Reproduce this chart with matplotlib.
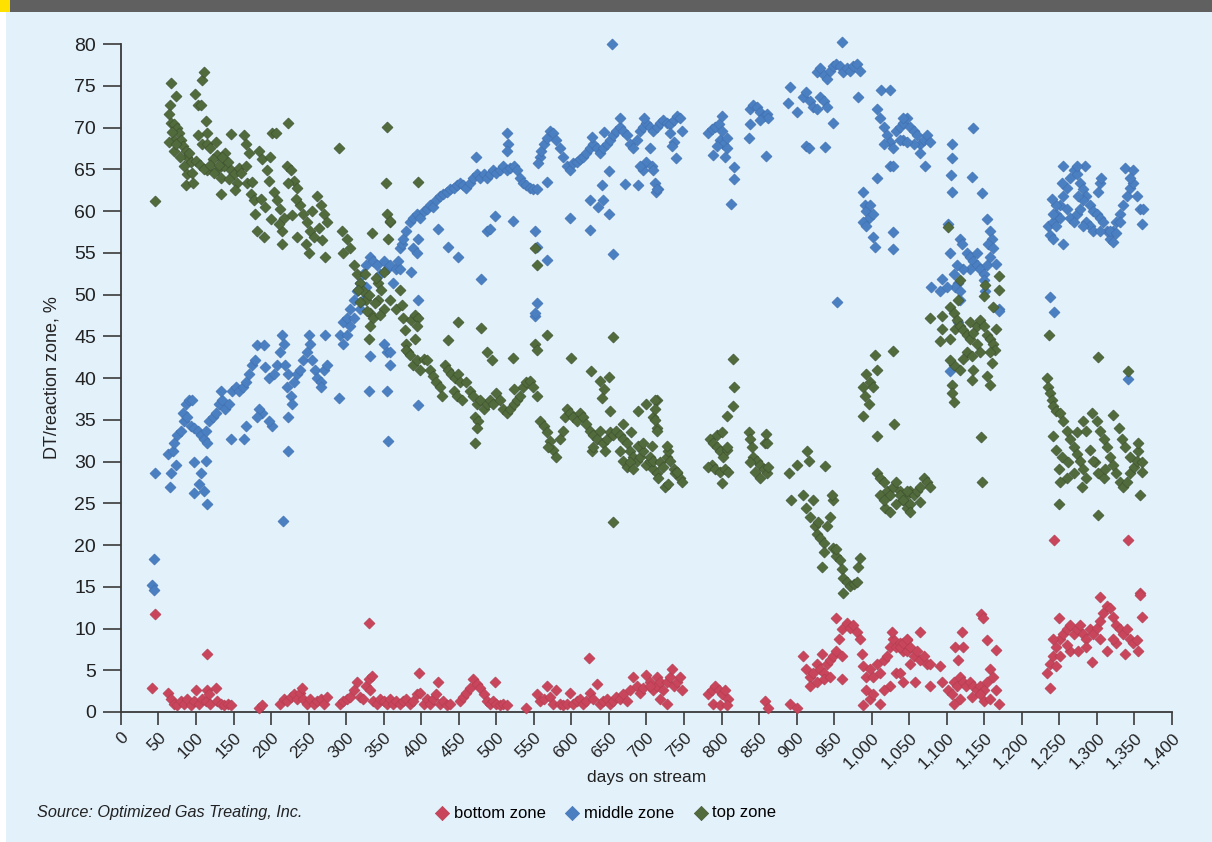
import matplotlib
matplotlib.use("Agg")
import matplotlib.pyplot as plt
from matplotlib.patches import Rectangle

plt.rcParams['font.family'] = ['Liberation Sans', 'DejaVu Sans']

# (day on stream, DT/reaction zone %)
bottom_pts = [
    (45.6, 11.7), (42, 2.9), (114, 7.0), (331, 10.6),
    (62, 2.3), (66, 1.6), (71, 1.0), (75, 0.8), (80, 1.3), (84, 1.0), (88, 1.6), (93, 0.8),
    (97, 1.3), (100, 2.6), (104, 1.0), (108, 1.6), (113, 1.3), (115, 2.6), (117, 2.1),
    (119, 1.0), (126, 2.9), (128, 1.3), (133, 1.0), (137, 0.8), (142, 1.0), (146, 0.8),
    (184, 0.5), (188, 0.8), (212, 1.0), (217, 1.6), (221, 1.3), (226, 1.8), (230, 2.1),
    (235, 1.6), (239, 2.3), (241, 2.9), (243, 1.6), (248, 1.0), (252, 1.6), (257, 1.0),
    (261, 1.3), (266, 1.6), (270, 1.0), (274, 1.8), (292, 1.0), (296, 1.3), (301, 1.6),
    (305, 1.8), (310, 2.6), (314, 3.6), (319, 1.8), (323, 1.6), (327, 3.1), (330, 3.9),
    (335, 4.3), (332, 2.6), (336, 1.3), (341, 1.0), (345, 1.6), (350, 1.3), (354, 1.0),
    (358, 1.6), (363, 1.0), (367, 1.3),
    (372, 1.0), (376, 1.3), (380, 1.6), (385, 1.0), (389, 1.3), (394, 2.1), (398, 2.3),
    (397, 4.7), (403, 1.0), (407, 1.6), (412, 1.0), (416, 1.6), (420, 2.1), (422, 3.6),
    (425, 1.0), (429, 1.3), (434, 0.8), (438, 1.0), (452, 1.3), (456, 1.8), (460, 2.3),
    (465, 2.9), (469, 3.9), (474, 3.4), (478, 2.9), (483, 2.1), (487, 1.3), (492, 1.0),
    (496, 1.3), (498, 3.6), (500, 1.0), (505, 0.8), (509, 1.0), (514, 0.8), (540, 0.5),
    (554, 2.1), (558, 1.3), (563, 1.6), (567, 3.1), (571, 1.8), (576, 1.0), (580, 2.6),
    (585, 1.0), (589, 0.8), (594, 1.0), (598, 2.3), (602, 1.0), (607, 1.3), (611, 1.6),
    (616, 1.0), (620, 1.3), (625, 2.3), (629, 1.6), (634, 3.4), (638, 1.0), (642, 1.3),
    (647, 1.6), (651, 1.0), (656, 1.3), (660, 1.8), (665, 1.6), (669, 2.1), (674, 1.3),
    (678, 2.6), (682, 4.2), (687, 3.1), (691, 2.3), (696, 2.9), (700, 4.4), (705, 3.6),
    (709, 2.6), (714, 3.1), (624, 6.5),
    (705, 3.1), (714, 4.2), (718, 3.6), (722, 2.6), (727, 3.6), (731, 4.2), (734, 5.2),
    (736, 3.1), (740, 3.6), (745, 4.2), (747, 2.6), (718, 1.6), (727, 1.0),
    (782, 2.1), (787, 2.6), (791, 3.1), (796, 2.6), (800, 2.1), (805, 2.6), (809, 1.6),
    (789, 1.0), (798, 0.8), (807, 0.8), (858, 1.3), (862, 0.5), (891, 1.0), (900, 0.5),
    (909, 6.7), (913, 5.2), (918, 4.2), (922, 4.7), (927, 5.7), (931, 5.2), (934, 6.9),
    (936, 4.7), (940, 5.7), (944, 6.2), (949, 6.7), (953, 7.3), (956, 8.8), (960, 9.9),
    (967, 10.6), (971, 10.1), (975, 10.4), (980, 9.6), (984, 8.8), (953, 11.3), (960, 6.7),
    (987, 7.0), (918, 3.1), (927, 3.6), (936, 3.9), (944, 4.2), (960, 3.9), (989, 5.5),
    (993, 4.2), (998, 5.2), (1002, 4.2), (1007, 5.7), (1011, 4.7), (1016, 6.2), (1020, 6.7),
    (1024, 7.8), (1029, 8.8), (1033, 7.8), (1038, 8.3), (1042, 7.3), (1047, 8.6), (1027, 9.6),
    (993, 2.6), (998, 1.6), (1002, 2.1), (989, 0.8), (1011, 1.0), (1024, 3.1), (1016, 2.6),
    (1033, 4.7), (1042, 3.6), (1051, 5.7),
    (1038, 7.8), (1042, 8.3), (1047, 7.3), (1051, 7.8), (1056, 6.7), (1060, 7.3), (1064, 6.2),
    (1069, 6.7), (1073, 5.7), (1078, 5.7), (1064, 9.6), (1047, 8.8), (1038, 4.7), (1058, 3.6),
    (1078, 3.1), (1091, 5.5), (1093, 3.6), (1102, 2.6), (1107, 2.1), (1109, 3.6), (1113, 3.1),
    (1118, 4.2), (1122, 3.6), (1126, 3.1), (1131, 3.6), (1135, 3.1), (1140, 2.6), (1144, 3.1),
    (1149, 2.6), (1153, 3.6), (1158, 5.2), (1162, 4.2), (1166, 2.6), (1169, 1.0), (1109, 1.0),
    (1118, 1.6), (1133, 1.8), (1149, 1.3), (1120, 9.6), (1111, 7.8), (1122, 7.8), (1115, 6.2),
    (1146, 11.7), (1148, 11.3), (1154, 8.6), (1166, 7.4), (1144, 2.1), (1158, 1.6),
    (1233, 4.7), (1237, 5.7), (1242, 6.7), (1246, 7.8), (1251, 8.8), (1255, 9.3), (1260, 9.9),
    (1264, 10.4), (1269, 9.3), (1273, 9.9), (1277, 10.4), (1282, 9.3), (1286, 8.8), (1291, 9.9),
    (1295, 9.3), (1300, 10.1), (1304, 10.9), (1308, 11.9), (1313, 12.7), (1317, 12.5),
    (1322, 11.4), (1326, 10.4), (1331, 9.9), (1335, 9.3), (1340, 9.9), (1344, 8.8), (1348, 8.3),
    (1353, 8.6), (1357, 14.3), (1358, 14.0), (1360, 11.4), (1304, 13.8), (1237, 2.9),
    (1246, 5.5), (1251, 6.7), (1249, 11.2), (1264, 7.3), (1275, 7.3), (1293, 6.0), (1304, 8.8),
    (1313, 7.3), (1326, 8.3), (1337, 7.0), (1355, 7.3), (1243, 20.6), (1341, 20.6),
    (1260, 8.0), (1286, 7.8), (1322, 8.8), (1242, 8.8),
]

middle_pts = [
    (44, 18.3), (42, 15.2), (44, 14.6), (45.6, 28.6), (65.5, 27.0), (66.4, 28.6),
    (62, 30.9), (69, 31.2), (73, 29.6), (71, 32.2), (75, 33.2), (80, 33.7), (84, 34.8),
    (82, 35.8), (86, 36.9), (91, 37.4), (95, 37.4), (88, 35.3), (93, 34.3), (97, 34.0),
    (102, 33.7), (106, 33.2), (111, 32.7), (115, 32.2), (113, 33.7), (117, 34.8), (122, 35.3),
    (126, 35.8), (131, 36.9), (135, 37.4), (133, 38.4), (139, 36.3), (144, 36.9), (148, 38.4),
    (153, 38.9), (157, 38.4), (162, 38.9), (166, 39.5), (170, 40.5), (175, 41.5), (179, 42.1),
    (181, 43.9), (190, 43.9), (192, 41.3), (197, 40.0), (204, 40.5), (208, 41.5), (212, 43.1),
    (215, 45.2), (217, 44.1), (219, 41.5), (223, 40.5), (221, 38.9), (226, 37.9), (228, 36.9),
    (223, 35.3), (230, 39.5), (235, 40.5), (239, 41.0), (243, 42.1), (248, 43.1), (252, 44.1),
    (250, 45.2), (254, 42.1), (259, 41.0), (261, 40.0), (266, 39.5), (270, 41.0), (274, 41.5),
    (266, 38.9), (201, 34.3), (197, 34.8), (188, 35.8), (184, 36.3), (181, 35.3), (166, 34.3),
    (164, 32.7), (146, 32.7), (106, 28.6), (111, 26.5), (114, 24.9), (97, 26.2), (97, 29.9),
    (113, 30.1), (104, 27.3), (223, 31.2), (216, 22.9), (272, 45.2), (291, 37.6), (292, 45.2),
    (296, 46.7), (301, 47.2), (305, 48.3), (310, 49.3), (314, 50.4), (319, 51.4), (323, 52.4),
    (327, 53.5), (332, 54.5), (336, 54.0), (341, 53.5), (345, 52.4), (350, 54.0), (354, 53.0),
    (358, 53.5), (363, 51.4), (367, 53.0), (369, 54.0), (327, 50.9), (323, 49.3), (319, 48.3),
    (310, 47.2), (305, 46.2), (301, 45.2), (296, 44.1), (332, 42.6), (331, 38.4), (350, 44.1),
    (354, 43.1), (358, 41.5), (354, 38.5), (356, 32.4), (358, 43.1),
    (372, 55.6), (374, 56.1), (376, 56.6), (380, 57.6), (385, 58.7), (389, 59.2), (394, 59.7),
    (398, 59.2), (403, 60.0), (407, 60.2), (412, 60.7), (416, 60.5), (420, 61.3), (425, 61.8),
    (429, 62.0), (434, 62.3), (438, 62.6), (443, 62.8), (447, 63.1), (452, 63.3), (456, 63.1),
    (460, 62.8), (465, 63.3), (469, 63.9), (474, 64.4), (478, 63.9), (483, 64.4), (487, 63.9),
    (492, 64.4), (496, 64.9), (500, 64.6), (505, 64.9), (509, 65.4), (514, 64.9), (518, 65.2),
    (523, 65.4), (527, 64.9), (531, 63.9), (536, 63.3), (540, 63.1), (545, 62.8), (549, 62.6),
    (554, 62.6), (473, 66.5), (514, 69.3), (515, 68.0), (514, 67.2), (389, 55.6), (394, 55.0),
    (396, 56.6), (372, 53.0), (387, 52.7), (396, 49.3), (396, 36.8), (422, 57.9), (435, 55.7),
    (449, 54.5), (480, 51.8), (487, 57.6), (492, 57.9), (498, 59.4), (522, 58.8), (551, 57.6),
    (554, 55.7), (567, 54.1), (554, 49.0), (552, 47.4), (551, 47.8), (558, 66.5), (560, 67.2),
    (563, 68.0), (567, 68.8), (571, 69.6), (576, 69.3), (580, 68.5), (585, 67.5), (589, 66.5),
    (594, 65.4), (598, 64.9), (602, 65.7), (607, 65.9), (611, 66.2), (616, 66.5), (620, 67.0),
    (625, 67.5), (629, 68.0), (634, 67.5), (638, 67.0), (642, 67.5), (647, 68.0), (651, 68.5),
    (656, 69.1), (660, 69.6), (665, 70.1), (669, 69.6), (674, 69.1), (678, 68.0), (682, 67.5),
    (687, 68.5), (691, 69.6), (696, 70.1), (700, 70.6), (705, 70.1), (709, 69.6), (714, 70.1),
    (716, 62.6), (713, 62.3), (700, 65.9), (696, 64.9), (691, 65.4), (689, 63.1), (672, 63.2),
    (665, 71.2), (697, 71.1), (643, 69.5), (627, 68.9), (650, 64.8), (641, 63.1), (598, 59.2),
    (625, 61.3), (636, 60.5), (642, 61.3), (650, 59.7), (625, 57.7), (656, 54.9), (654, 80.0),
    (556, 65.7), (567, 63.5),
    (718, 70.6), (722, 70.9), (727, 70.6), (731, 70.4), (736, 70.9), (740, 71.4), (745, 71.1),
    (747, 69.6), (731, 69.3), (736, 68.3), (734, 67.8), (705, 67.5), (707, 65.4), (709, 64.9),
    (711, 63.3), (714, 62.6), (739, 66.4), (782, 69.3), (787, 69.8), (791, 70.1), (796, 70.4),
    (800, 71.4), (798, 68.5), (802, 68.0), (807, 67.5), (805, 66.5), (794, 67.8), (789, 66.7),
    (800, 69.6), (807, 68.8), (816, 65.3), (816, 63.8), (813, 60.9), (838, 72.2), (842, 72.7),
    (847, 72.4), (851, 71.9), (856, 71.4), (860, 71.6), (862, 71.1), (851, 70.9), (838, 70.4),
    (837, 68.7), (859, 66.6), (891, 74.8), (889, 72.9), (900, 71.9), (909, 73.7), (913, 74.2),
    (918, 73.2), (922, 72.4), (927, 72.2), (931, 73.7), (936, 73.2), (940, 72.4), (913, 67.8),
    (916, 67.5), (938, 67.7), (948, 70.6), (927, 76.6), (931, 77.1), (936, 76.3), (940, 75.8),
    (944, 76.8), (949, 77.4), (953, 77.6), (958, 77.4), (962, 76.6), (967, 77.1), (971, 76.8),
    (975, 77.4), (980, 77.6), (984, 76.8), (982, 73.7), (960, 80.2), (989, 62.3), (991, 60.7),
    (993, 60.0), (996, 59.2), (998, 60.7), (1002, 59.7), (989, 58.7), (993, 58.2), (1002, 56.9),
    (1004, 55.7), (1029, 57.5), (1029, 55.4), (1007, 63.9), (1013, 74.5), (1024, 74.5),
    (1007, 72.2), (1011, 71.1), (1016, 70.1), (1020, 69.1), (1024, 68.3), (1029, 67.5),
    (1033, 69.6), (1038, 70.1), (1042, 70.6), (1047, 71.1), (1051, 70.1), (1042, 68.5),
    (1016, 68.0), (1024, 65.4), (1029, 65.4), (954, 49.1),
    (1042, 71.1), (1056, 69.6), (1060, 69.1), (1064, 68.0), (1069, 68.5), (1073, 69.1),
    (1078, 68.3), (1064, 67.0), (1056, 68.0), (1071, 65.4), (1038, 68.5), (1047, 68.3),
    (1107, 68.0), (1107, 66.4), (1105, 64.3), (1107, 62.3), (1104, 55.0), (1102, 58.4),
    (1135, 70.0), (1134, 64.1), (1147, 62.1), (1153, 59.1), (1158, 57.6), (1160, 56.6),
    (1155, 56.1), (1118, 56.6), (1120, 56.1), (1127, 55.0), (1131, 54.5), (1135, 54.0),
    (1140, 53.5), (1144, 53.0), (1149, 52.4), (1153, 53.5), (1158, 54.5), (1162, 55.6),
    (1166, 53.7), (1140, 55.0), (1131, 53.0), (1122, 53.0), (1113, 53.5), (1109, 52.4),
    (1115, 51.4), (1111, 50.9), (1118, 50.4), (1093, 51.9), (1091, 50.4), (1079, 50.9),
    (1100, 50.9), (1149, 51.7), (1151, 50.4), (1169, 48.3), (1118, 49.3), (1104, 40.8),
    (1115, 46.7), (1169, 48.0),
    (1235, 58.2), (1237, 57.1), (1242, 58.7), (1246, 59.7), (1251, 60.7), (1255, 61.8),
    (1260, 62.8), (1264, 63.9), (1269, 64.9), (1273, 64.4), (1277, 63.3), (1282, 62.6),
    (1286, 61.8), (1291, 60.7), (1295, 60.0), (1300, 59.7), (1304, 59.2), (1308, 58.7),
    (1313, 57.6), (1317, 56.6), (1322, 57.6), (1326, 58.7), (1331, 59.7), (1335, 60.7),
    (1340, 61.8), (1344, 62.8), (1348, 63.3), (1353, 61.8), (1357, 60.2), (1362, 60.2),
    (1360, 58.4), (1337, 65.2), (1348, 64.9), (1344, 63.9), (1284, 65.4), (1273, 65.4),
    (1255, 65.4), (1246, 58.2), (1251, 59.2), (1242, 59.7), (1246, 60.7), (1260, 60.2),
    (1264, 59.2), (1269, 58.7), (1273, 59.7), (1277, 60.2), (1282, 61.3), (1286, 58.7),
    (1291, 58.2), (1295, 57.6), (1304, 57.6), (1317, 57.6), (1322, 56.3), (1326, 57.4),
    (1331, 58.7), (1304, 63.3), (1306, 63.9), (1302, 62.3), (1282, 58.2), (1242, 56.6),
    (1237, 49.7), (1243, 47.9), (1341, 39.9), (1255, 56.1), (1240, 61.5), (1253, 63.3),
    (1275, 61.8),
]

top_pts = [
    (45.6, 61.2), (66, 75.3), (73, 73.8), (65, 72.7), (64, 71.6), (66, 70.6), (71, 70.4),
    (75, 69.9), (77, 69.4), (71, 68.5), (80, 68.5), (64, 68.3), (70, 67.2), (82, 67.8),
    (86, 67.2), (88, 66.5), (93, 65.9), (84, 65.4), (88, 64.4), (95, 64.6), (86, 63.1),
    (96, 63.3), (102, 72.7), (106, 72.7), (98, 74.0), (108, 75.7), (111, 76.7), (113, 70.8),
    (114, 69.4), (102, 69.1), (108, 68.0), (115, 68.0), (119, 67.5), (126, 68.3), (128, 66.7),
    (122, 66.2), (115, 64.9), (128, 64.9), (133, 63.9), (133, 62.0), (137, 65.4), (142, 65.9),
    (146, 69.2), (139, 67.0), (146, 64.9), (150, 64.4), (155, 63.3), (157, 65.2), (164, 69.1),
    (166, 68.0), (170, 67.0), (166, 65.4), (168, 63.3), (173, 62.0), (177, 61.3), (179, 59.7),
    (181, 57.6), (190, 56.9), (184, 67.2), (188, 66.2), (199, 66.5), (201, 69.3), (206, 69.3),
    (195, 64.9), (197, 63.6), (204, 62.3), (208, 61.3), (212, 60.2), (217, 59.2), (215, 57.6),
    (214, 56.0), (221, 65.4), (226, 64.9), (230, 63.6), (223, 63.3), (235, 62.8), (239, 60.7),
    (243, 59.7), (248, 58.7), (252, 57.6), (246, 56.1), (250, 55.0), (235, 56.9), (261, 61.8),
    (266, 60.7), (270, 59.7), (274, 58.7), (272, 54.5), (257, 56.9), (223, 70.5), (291, 67.5),
    (294, 57.6), (301, 56.6), (305, 55.6), (296, 55.0), (314, 52.4), (319, 51.4), (323, 50.4),
    (327, 49.3), (319, 49.1), (332, 47.8), (336, 47.2), (343, 49.3), (350, 48.3), (330, 44.7),
    (332, 46.2), (343, 51.4), (354, 70.1), (353, 63.3), (354, 59.7), (358, 58.7), (356, 56.6),
    (350, 52.7), (358, 49.3), (367, 48.3), (334, 57.4), (359, 58.8),
    (68, 69.5), (73, 68.0), (78, 66.5), (90, 67.0), (100, 66.0), (105, 65.5), (110, 65.0),
    (118, 65.5), (124, 64.5), (130, 65.5), (135, 66.5), (144, 63.8), (152, 62.5), (160, 64.5),
    (175, 63.5), (186, 61.5), (192, 60.5), (200, 59.0), (210, 58.5), (228, 59.5), (233, 61.5),
    (255, 60.0), (264, 58.0), (268, 56.5), (310, 53.5), (316, 50.5), (325, 52.5), (330, 50.0),
    (338, 49.0), (345, 47.5), (340, 52.0), (328, 48.0), (347, 50.5),
    (396, 63.5), (372, 50.6), (374, 48.8), (376, 47.2), (378, 45.7), (380, 44.1), (383, 43.1),
    (387, 47.0), (392, 47.5), (396, 47.2), (394, 46.2), (392, 44.7), (380, 43.4), (385, 42.8),
    (389, 41.5), (394, 42.1), (398, 41.0), (403, 42.3), (407, 42.1), (412, 41.0), (416, 40.2),
    (420, 39.5), (425, 38.9), (427, 37.9), (432, 41.5), (436, 41.0), (440, 40.5), (445, 40.0),
    (449, 40.5), (452, 39.5), (443, 38.4), (447, 37.9), (454, 37.4), (460, 39.5), (465, 38.4),
    (469, 37.9), (474, 36.9), (478, 37.4), (483, 36.3), (487, 36.9), (492, 37.4), (496, 36.9),
    (500, 38.2), (505, 37.4), (509, 36.3), (514, 35.8), (518, 36.3), (523, 36.9), (527, 37.4),
    (531, 37.9), (536, 38.9), (540, 39.5), (545, 39.7), (549, 38.9), (554, 37.9), (472, 35.3),
    (476, 34.8), (474, 34.0), (472, 32.2), (449, 46.7), (480, 46.0), (436, 44.5), (488, 43.1),
    (494, 42.2), (522, 42.4), (523, 38.7), (551, 55.6), (554, 53.5), (551, 44.1), (554, 43.4),
    (567, 45.2), (599, 42.4), (626, 40.9), (638, 39.7), (643, 38.7), (650, 40.1), (641, 37.6),
    (656, 44.9), (655, 22.7),
    (558, 34.8), (563, 34.3), (567, 33.5), (571, 32.4), (576, 31.4), (580, 30.6), (569, 31.7),
    (585, 32.7), (589, 33.7), (591, 35.3), (594, 36.3), (598, 35.8), (602, 35.3), (607, 34.8),
    (611, 35.8), (616, 35.3), (620, 34.5), (625, 33.7), (629, 33.2), (634, 32.7), (638, 33.7),
    (642, 32.2), (647, 32.7), (651, 33.5), (656, 33.2), (660, 33.7), (665, 33.2), (669, 32.7),
    (674, 32.2), (678, 31.2), (682, 30.6), (687, 30.1), (691, 30.6), (696, 31.2), (700, 29.6),
    (705, 30.1), (709, 29.1), (714, 28.6), (716, 28.0), (665, 31.2), (669, 30.1), (674, 29.3),
    (678, 29.9), (682, 29.1), (627, 31.2), (645, 31.2), (629, 31.7), (651, 36.1), (689, 36.1),
    (700, 36.9), (714, 37.4), (714, 34.0), (709, 35.3), (669, 34.5), (680, 33.5), (689, 31.9),
    (696, 32.2),
    (711, 37.4), (711, 36.3), (711, 35.0), (714, 33.7), (707, 31.9), (705, 30.6), (709, 30.1),
    (718, 29.9), (722, 29.3), (727, 30.6), (731, 30.1), (736, 29.1), (740, 28.6), (745, 28.0),
    (747, 27.5), (725, 27.0), (729, 31.2), (738, 28.6), (727, 31.9), (729, 27.3), (740, 28.8),
    (785, 32.7), (789, 32.2), (794, 31.7), (798, 31.2), (802, 30.6), (807, 31.4), (787, 29.6),
    (782, 29.3), (791, 29.1), (798, 28.8), (805, 29.1), (809, 28.8), (794, 33.2), (800, 33.5),
    (807, 31.7), (800, 27.4), (807, 35.4), (815, 36.6), (817, 38.9), (815, 42.3),
    (836, 33.5), (838, 32.7), (840, 31.7), (842, 30.6), (847, 30.1), (851, 29.6), (856, 29.1),
    (860, 28.6), (862, 29.3), (858, 32.2), (860, 32.2), (838, 29.9), (845, 28.8), (851, 28.0),
    (859, 33.3),
    (890, 28.6), (893, 25.4), (900, 29.6), (914, 31.2), (916, 30.1), (938, 29.5), (909, 26.0),
    (913, 24.4), (918, 23.4), (922, 25.4), (925, 22.3), (927, 21.3), (931, 20.8), (936, 20.2),
    (940, 22.3), (945, 23.4), (949, 25.4), (947, 26.0), (929, 22.8), (936, 19.2), (934, 17.4),
    (949, 19.7), (953, 18.7), (958, 18.2), (960, 17.1), (962, 16.1), (967, 15.6), (971, 15.1),
    (976, 15.3), (980, 15.6), (982, 17.4), (984, 18.4), (962, 14.3), (953, 19.5),
    (989, 38.9), (993, 40.5), (998, 39.5), (1002, 38.9), (991, 37.9), (996, 36.9), (1007, 41.0),
    (1004, 42.8), (989, 35.4), (1007, 33.1), (1029, 43.2), (1030, 34.5),
    (1007, 28.6), (1011, 28.0), (1016, 27.5), (1020, 26.5), (1024, 26.0), (1029, 27.0),
    (1033, 27.5), (1038, 26.5), (1042, 25.4), (1047, 26.0), (1051, 26.5), (1011, 26.0),
    (1018, 24.4), (1024, 23.9), (1016, 25.4), (1033, 24.9),
    (1038, 26.0), (1042, 25.4), (1047, 24.4), (1051, 24.9), (1056, 26.0), (1060, 26.5),
    (1064, 27.0), (1069, 28.0), (1073, 27.5), (1078, 27.0), (1064, 25.2), (1051, 23.9),
    (1047, 26.5),
    (1078, 47.2), (1093, 47.4), (1104, 48.5), (1115, 49.3), (1118, 51.7), (1111, 45.9),
    (1093, 45.9), (1091, 44.4), (1104, 44.7), (1109, 47.8), (1113, 47.0), (1118, 46.2),
    (1122, 45.7), (1127, 45.2), (1131, 44.7), (1135, 45.4), (1140, 46.2), (1144, 47.0),
    (1149, 46.2), (1153, 45.2), (1158, 44.7), (1162, 44.1), (1166, 45.9), (1169, 52.2),
    (1169, 50.6), (1162, 48.5), (1149, 49.8), (1151, 51.2), (1127, 43.1), (1122, 42.3),
    (1118, 41.0), (1109, 41.6), (1104, 42.1), (1107, 39.2), (1107, 38.2), (1109, 37.1),
    (1133, 42.6), (1133, 39.8), (1135, 41.0), (1153, 40.2), (1158, 39.2), (1160, 41.8),
    (1164, 43.4), (1146, 32.9), (1147, 27.5), (1102, 58.1), (1158, 43.1), (1131, 46.7),
    (1140, 44.1), (1144, 43.1),
    (1236, 45.1), (1233, 40.0), (1235, 38.9), (1238, 38.2), (1240, 37.4), (1242, 36.6),
    (1246, 36.1), (1251, 35.8), (1255, 34.8), (1260, 33.7), (1264, 32.7), (1269, 31.7),
    (1273, 30.9), (1278, 30.1), (1282, 29.1), (1286, 28.0), (1280, 27.0), (1269, 28.6),
    (1260, 28.0), (1251, 27.5), (1249, 29.1), (1242, 33.0), (1246, 31.4), (1253, 30.6),
    (1262, 29.9), (1273, 33.5), (1282, 34.8), (1286, 33.7), (1293, 35.8), (1300, 34.8),
    (1304, 33.7), (1309, 32.7), (1313, 31.7), (1317, 30.6), (1322, 29.6), (1326, 28.6),
    (1331, 27.5), (1335, 27.0), (1340, 27.5), (1344, 28.6), (1349, 29.3), (1353, 30.1),
    (1355, 31.2), (1355, 32.2), (1360, 29.9), (1360, 28.8), (1357, 26.0), (1322, 35.6),
    (1329, 34.0), (1333, 32.7), (1337, 31.7), (1344, 30.6), (1297, 29.9), (1302, 28.6),
    (1309, 28.0), (1302, 23.6), (1301, 42.5), (1341, 40.9), (1249, 24.9), (1291, 31.4),
    (1295, 30.1), (1311, 29.1),
]

series = [
    ("bottom zone", bottom_pts, "#c8455b", "#b23c50"),
    ("middle zone", middle_pts, "#4a7fc2", "#3f6fae"),
    ("top zone", top_pts, "#526b3d", "#3c4f2c"),
]

x_ticks = list(range(0, 1401, 50))
x_labels = [f"{t:,}" for t in x_ticks]
y_ticks = list(range(0, 81, 5))

fig = plt.figure(figsize=(12.12, 8.42), dpi=100, facecolor="#e3f1fb")
ax = fig.add_axes([0.0998, 0.1544, 0.8672, 0.7933])
ax.set_facecolor("#e3f1fb")

handles = []
for name, pts, color, edge in series:
    days = [p[0] for p in pts]
    vals = [p[1] for p in pts]
    h = ax.scatter(days, vals, marker="D", s=32, color=color, edgecolors=edge,
                   linewidths=0.4, label=name, clip_on=False, zorder=3)
    handles.append(h)

ax.set_xlim(0, 1400)
ax.set_ylim(0, 80)
for side in ["top", "right"]:
    ax.spines[side].set_visible(False)
for side in ["left", "bottom"]:
    ax.spines[side].set_color("#3a3a3a")
    ax.spines[side].set_linewidth(1.3)

ax.set_yticks(y_ticks)
ax.set_yticklabels([str(t) for t in y_ticks], fontsize=14, color="#222222")
ax.set_xticks(x_ticks)
ax.set_xticklabels(x_labels, fontsize=12.5, color="#222222", rotation=45,
                   ha="right", va="top", rotation_mode="anchor")
ax.tick_params(axis="y", length=13, width=1.2, color="#3a3a3a", pad=5)
ax.tick_params(axis="x", length=9, width=1.2, color="#3a3a3a", pad=4)

ax.set_xlabel("days on stream", fontsize=12.5, color="#222222", va="center")
ax.xaxis.set_label_coords(0.5, -0.0988)
ax.set_ylabel("DT/reaction zone, %", fontsize=13, color="#222222", labelpad=10)

# header band and edge strip
fig.patches.append(Rectangle((0, 1 - 12 / 842), 1, 12 / 842, transform=fig.transFigure,
                             facecolor="#606060", edgecolor="none", zorder=5))
fig.patches.append(Rectangle((0, 1 - 12 / 842), 10 / 1212, 12 / 842, transform=fig.transFigure,
                             facecolor="#ffe100", edgecolor="none", zorder=6))
fig.patches.append(Rectangle((0, 0), 6 / 1212, 1 - 12 / 842, transform=fig.transFigure,
                             facecolor="white", edgecolor="none", zorder=5))

fig.text(37 / 1212, 1 - 813 / 842, "Source: Optimized Gas Treating, Inc.", fontsize=11.7,
         style="italic", color="#222222", ha="left", va="center")
fig.legend(handles=handles, loc="center", bbox_to_anchor=(605 / 1212, 1 - 813 / 842),
           ncol=3, frameon=False, fontsize=12, handletextpad=0.2, columnspacing=1.1,
           handlelength=1.0, markerscale=1.3, borderpad=0)

fig.savefig("out.png", dpi=100, facecolor=fig.get_facecolor())
